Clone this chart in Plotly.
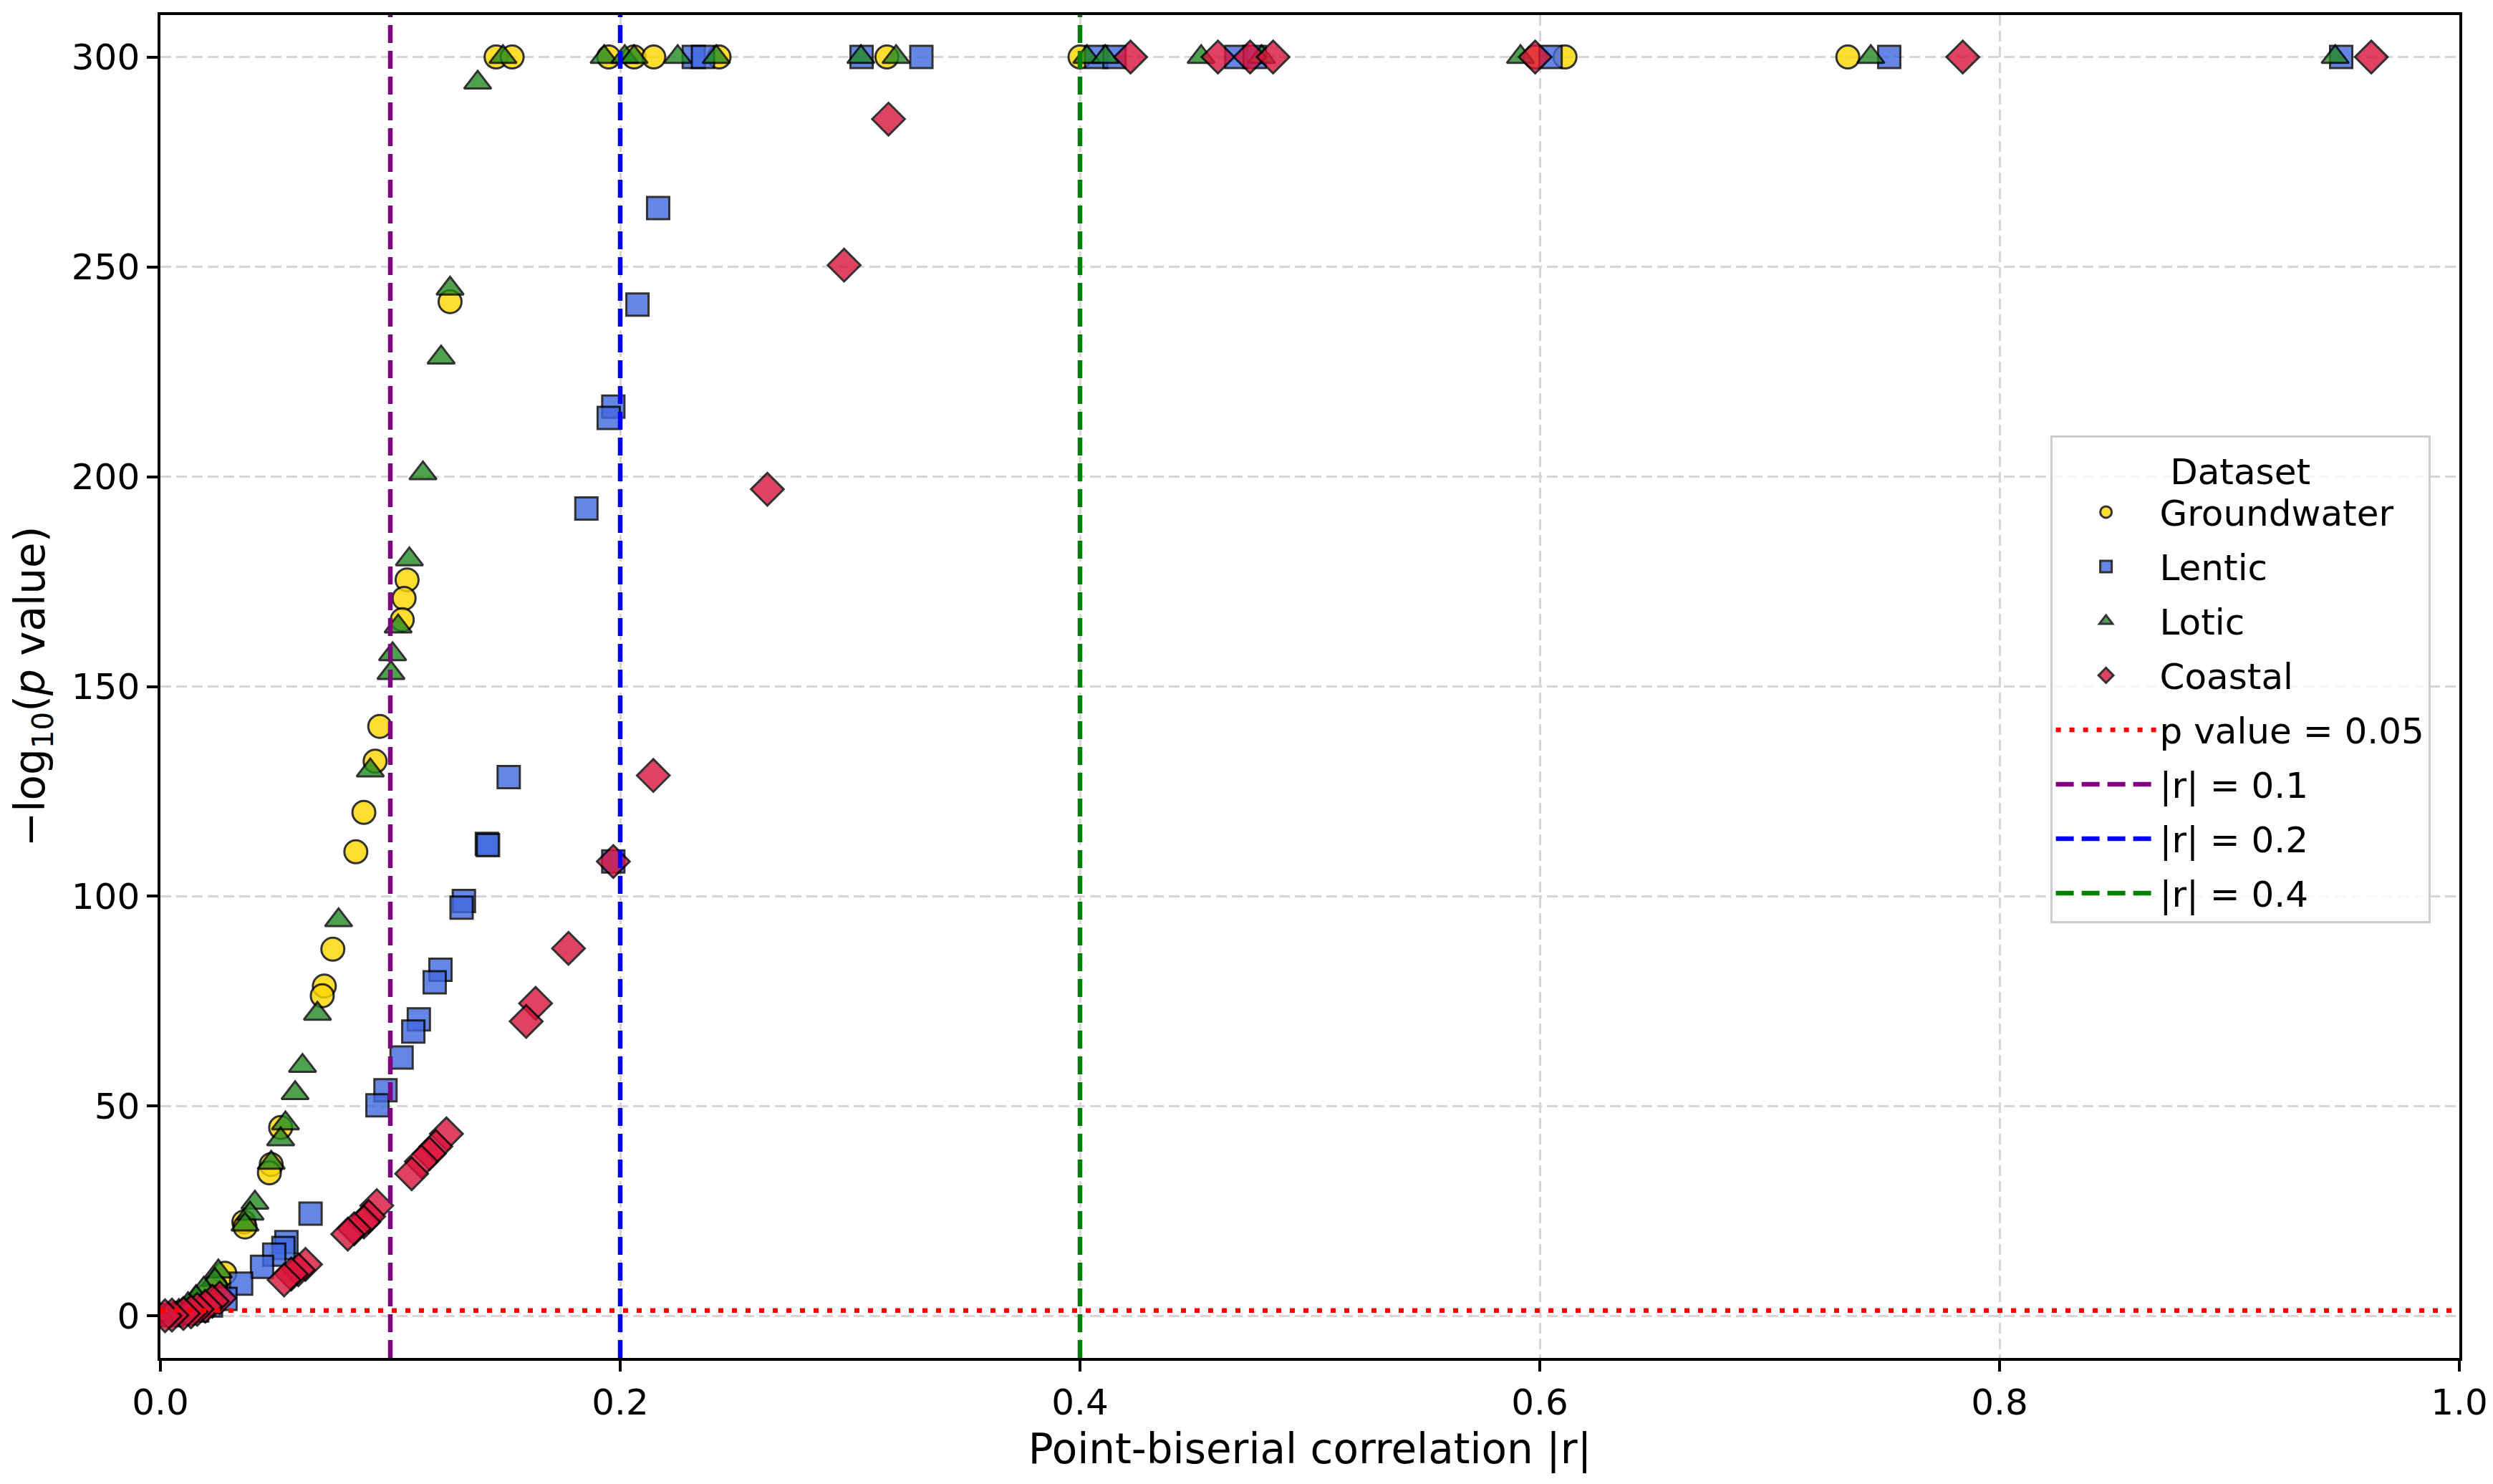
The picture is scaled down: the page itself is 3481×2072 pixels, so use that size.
import math
import plotly.graph_objects as go

# --- values --------------------------------------------------------------
# |r| and -log10(p) per dataset (p values that underflowed are capped at 300)
groundwater_r = [0.146, 0.153, 0.195, 0.206, 0.2146, 0.243, 0.316, 0.400, 0.598, 0.611, 0.734,
                 0.126, 0.1073, 0.106, 0.1052, 0.0954, 0.0934, 0.0885, 0.085, 0.075, 0.0713, 0.0704,
                 0.0523, 0.0482, 0.0474, 0.0363, 0.0368, 0.028, 0.024, 0.020, 0.016, 0.012, 0.008, 0.004]
groundwater_y = [300, 300, 300, 300, 300, 300, 300, 300, 300, 300, 300,
                 241.7, 175.4, 171.0, 165.9, 140.5, 132.2, 120.0, 110.6, 87.4, 78.6, 76.3,
                 44.9, 36.1, 34.1, 22.4, 21.2, 10.2, 7.0, 4.8, 3.0, 1.6, 0.7, 0.2]

lentic_r = [0.232, 0.236, 0.305, 0.331, 0.407, 0.415, 0.468, 0.476, 0.6047, 0.752, 0.9486,
            0.2165, 0.2075, 0.197, 0.195, 0.1853, 0.197, 0.1515, 0.142, 0.1425, 0.132, 0.131,
            0.1218, 0.1193, 0.1124, 0.110, 0.1049, 0.0979, 0.0944, 0.0653, 0.0548, 0.0535,
            0.0495, 0.0442, 0.0351, 0.0283, 0.022, 0.016, 0.010, 0.005]
lentic_y = [300, 300, 300, 300, 300, 300, 300, 300, 300, 300, 300,
            264.0, 241.0, 216.7, 214.0, 192.4, 108.3, 128.4, 112.5, 112.2, 98.9, 97.3,
            82.5, 79.5, 70.7, 67.8, 61.6, 53.8, 50.2, 24.4, 17.6, 16.2,
            14.6, 11.7, 7.7, 4.1, 2.5, 1.3, 0.6, 0.2]

lotic_r = [0.149, 0.193, 0.202, 0.206, 0.225, 0.2418, 0.3047, 0.320, 0.403, 0.411, 0.4527,
           0.479, 0.5916, 0.744, 0.946,
           0.138, 0.126, 0.1221, 0.1142, 0.1083, 0.1034, 0.101, 0.1003, 0.0913, 0.0775, 0.0683,
           0.0618, 0.0586, 0.0544, 0.0523, 0.0482, 0.0411, 0.039, 0.0368, 0.0252, 0.0237,
           0.0189, 0.0155, 0.012, 0.008, 0.003]
lotic_y = [300, 300, 300, 300, 300, 300, 300, 300, 300, 300, 300,
           300, 300, 300, 300,
           293.9, 244.8, 228.4, 200.8, 180.3, 164.3, 157.7, 153.2, 130.0, 94.3, 72.0,
           59.6, 53.1, 45.9, 42.1, 36.5, 27.0, 24.4, 21.8, 10.6, 8.6,
           6.5, 4.5, 2.8, 1.2, 0.2]

coastal_r = [0.422, 0.460, 0.474, 0.484, 0.598, 0.784, 0.9617,
             0.3167, 0.2974, 0.264, 0.2144, 0.197, 0.1775, 0.1632, 0.1591, 0.1244, 0.1198,
             0.117, 0.1135, 0.1093, 0.0941, 0.0906, 0.0885, 0.0843, 0.0815, 0.0631, 0.060,
             0.0569, 0.0538, 0.0258, 0.0226, 0.0195, 0.016, 0.0133, 0.010, 0.005, 0.002]
coastal_y = [300, 300, 300, 300, 300, 300, 300,
             285.2, 250.4, 197.0, 128.8, 108.3, 87.6, 74.5, 70.2, 43.4, 40.4,
             38.7, 36.8, 33.9, 26.3, 23.7, 22.4, 20.8, 19.5, 12.3, 11.0,
             10.0, 8.6, 4.3, 3.5, 2.3, 1.6, 1.0, 0.6, 0.2, 0.05]

p_cutoff = 0.05
r_cutoffs = [0.1, 0.2, 0.4]
r_colors = ["purple", "blue", "green"]

x_range = [0, 1]
y_range = [-10, 310]

datasets = [
    ("Groundwater", groundwater_r, groundwater_y, "gold", "circle", 32),
    ("Lentic", lentic_r, lentic_y, "royalblue", "square", 31),
    ("Lotic", lotic_r, lotic_y, "forestgreen", "triangle-up", 33),
    ("Coastal", coastal_r, coastal_y, "crimson", "diamond", 35),
]

font = "DejaVu Sans"

fig = go.Figure()

for name, xs, ys, color, symbol, size in datasets:
    fig.add_trace(go.Scatter(
        x=xs, y=ys, mode="markers", name=name, legendgroup=name,
        marker=dict(color=color, symbol=symbol, size=size, opacity=0.8,
                    line=dict(color="black", width=3)),
    ))

# significance line
p_line = -math.log10(p_cutoff)
fig.add_trace(go.Scatter(
    x=x_range, y=[p_line, p_line], mode="lines", name="p value = 0.05", legendgroup="p",
    line=dict(color="red", width=6.5, dash="7px,12px"),
))

# correlation thresholds
for r, c in zip(r_cutoffs, r_colors):
    fig.add_trace(go.Scatter(
        x=[r, r], y=y_range, mode="lines", name=f"|r| = {r}", legendgroup=f"r{r}",
        line=dict(color=c, width=6.5, dash="25px,11px"),
    ))

# page body has an 8px margin, so the figure is shrunk/offset to match
fig.update_layout(
    width=3465, height=2056,
    margin=dict(l=216, r=39, t=13, b=168),
    plot_bgcolor="white", paper_bgcolor="white",
    font=dict(family=font, size=50, color="black"),
    showlegend=True,
    legend=dict(
        title=dict(text="Dataset", side="top center", font=dict(size=50)),
        x=0.822, y=0.687, xanchor="left", yanchor="top",
        bgcolor="rgba(255,255,255,0.8)", bordercolor="#cccccc", borderwidth=3,
        font=dict(size=50), itemwidth=140, tracegroupgap=8,
    ),
)

fig.update_xaxes(
    range=x_range, tickvals=[0, 0.2, 0.4, 0.6, 0.8, 1.0], tickformat=".1f",
    ticklabeloverflow="allow", automargin=False,
    title=dict(text="Point-biserial correlation |r|", font=dict(size=58), standoff=18),
    showline=True, linecolor="black", linewidth=3.5, mirror=True,
    ticks="outside", ticklen=15, tickwidth=3.5, tickcolor="black",
    showgrid=True, gridcolor="#d6d6d6", gridwidth=3, griddash="15px,7px",
    zeroline=False,
)
fig.update_yaxes(
    range=y_range, tickvals=[0, 50, 100, 150, 200, 250, 300],
    automargin=False,
    title=dict(text="−log<sub>10</sub>(<i>p</i> value)", font=dict(size=58), standoff=24),
    showline=True, linecolor="black", linewidth=3.5, mirror=True,
    ticks="outside", ticklen=15, tickwidth=3.5, tickcolor="black",
    showgrid=True, gridcolor="#d6d6d6", gridwidth=3, griddash="15px,7px",
    zeroline=False,
)

fig.write_html("out.html")
